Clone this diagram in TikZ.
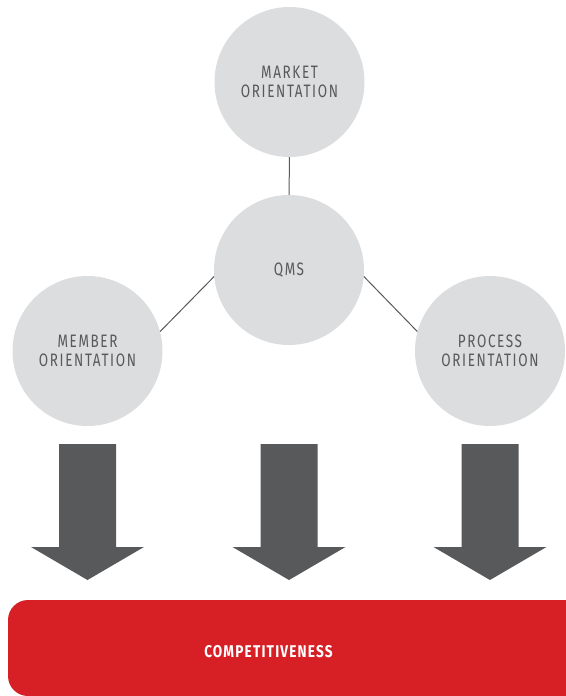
\documentclass[tikz,border=0pt]{standalone}
\usepackage{fontspec}
\setmainfont{Fira Sans}
\newfontfamily\circlefont{Fira Sans}[FakeStretch=0.75,LetterSpace=9]
\newfontfamily\boxfont{Fira Sans}[FakeStretch=0.8,LetterSpace=7]
\usetikzlibrary{positioning}
\definecolor{circlegrey}{HTML}{DCDDDE}
\definecolor{darkgrey}{HTML}{58595B}
\definecolor{compred}{HTML}{D71F26}

\begin{document}
\begin{tikzpicture}[x=1pt, y=-1pt,
  orient node/.style={circle, fill=circlegrey, minimum size=150pt, inner sep=0pt,
    align=center, text=darkgrey, font=\circlefont\fontsize{18}{19}\selectfont},
  link/.style={draw=darkgrey, line width=1pt}]
  \useasboundingbox (0,0) rectangle (565,696);

  \node[orient node] (market) at (289.5,82) {MARKET\\ORIENTATION};
  \node[orient node] (qms) at (289,270) {QMS};
  \node[orient node] (member) at (87.5,351) {MEMBER\\ORIENTATION};
  \node[orient node] (process) at (490,351) {PROCESS\\ORIENTATION};
 \path[link] (market) -- (qms);
 \path[link] (qms.185) -- (member.15);
 \path[link] (qms.-5) -- (process.165);

 % big arrows down to the bar
 \foreach \x in {87.5,289,490}
   \fill[darkgrey] (\x-28.5,444) -- (\x+28.5,444) -- (\x+28.5,547) -- (\x+56.5,547)
     -- (\x,580) -- (\x-56.5,547) -- (\x-28.5,547) -- cycle;

 \fill[compred, rounded corners=20pt] (8,600) rectangle (590,696);
 \node[text=white, font=\boxfont\bfseries\fontsize{17}{19}\selectfont] (comp) at (268.5,652) {COMPETITIVENESS};

\end{tikzpicture}
\end{document}
